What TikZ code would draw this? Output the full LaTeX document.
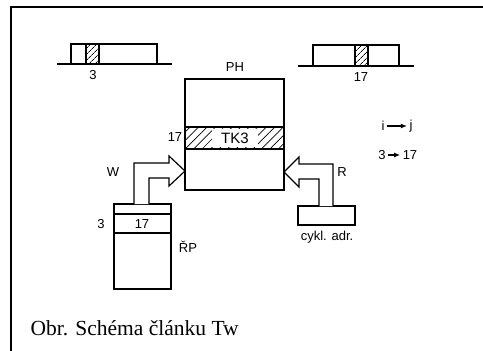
\documentclass[tikz,border=0pt]{standalone}
\usepackage{fontspec}
\setmainfont{Liberation Serif}
\setsansfont{Liberation Sans}
\usetikzlibrary{arrows.meta, positioning, patterns.meta}

\begin{document}
\begin{tikzpicture}[x=1pt, y=-1pt, line width=1.2pt,
    lab/.style={font=\sffamily\fontsize{13}{15}\selectfont, inner sep=1pt},
    hatch/.style={pattern={Lines[angle=45, distance=4pt, line width=0.7pt]}},
    wide hatch/.style={pattern={Lines[angle=45, distance=6pt, line width=0.7pt]}},
    blk/.style={draw, line join=miter, fill=white},
    arr/.style={-{Latex[length=6pt, width=5pt]}, line width=1.8pt, shorten <=1pt, shorten >=1pt}
  ]
  \useasboundingbox (0,0) rectangle (483,351);
  % frame
  \draw[line width=2pt] (11,351) -- (11,7) -- (483,7);

  % track strips
  \draw (57,64) -- (172,64);
  \draw (71,64) rectangle (157,44);
  \draw[hatch] (86,44) rectangle (99,64);
  \node[lab] (n3a) at (93,75) {3};

  \draw (298,66) -- (414,66);
  \draw (313,66) rectangle (399,45);
  \draw[hatch] (355,45) rectangle (368,66);
  \node[lab] (n17a) at (361,77) {17};

  % PH memory
  \draw (185,79) rectangle (284,190);
  \draw[wide hatch] (185,127) rectangle (284,149);
  \node[lab, fill=white, font=\sffamily\fontsize{15}{17}\selectfont, inner xsep=9pt, inner ysep=4pt] (tk) at (235,138) {TK3};
  \node[lab] (ph) at (235,67) {PH};
  \node[lab] (n17b) at (175,137) {17};

  % RP register
  \draw (114,204) rectangle (171,289);
  \draw (114,214) -- (171,214);
  \draw (114,233) -- (171,233);
  \node[lab] (n3b) at (101,224) {3};
  \node[lab] (n17c) at (142,224) {17};
  \node[lab] (rp) at (188,247) {ŘP};

  % cyclic address
  \draw (298,206) rectangle (355,225);
  \node[lab] (cyk) at (327,237) {cykl. adr.};

  % block arrows
  \draw[blk] (134,204) -- (134,163) -- (169,163) -- (169,156) -- (185,171)
    -- (169,186) -- (169,178) -- (149,178) -- (149,204);
  \node[lab] (w) at (113,172) {W};
  \draw[blk] (333,206) -- (333,164) -- (299,164) -- (299,157) -- (284,172)
    -- (299,187) -- (299,179) -- (319,179) -- (319,206);
  \node[lab] (r) at (342,172) {R};

  % mapping
  \node[lab] (i) at (383,126) {i};
  \node[lab] (j) at (411,126) {j};
  \draw[arr] (i) -- (j);
  \node[lab] (s3) at (382,155) {3};
  \node[lab] (s17) at (410,155) {17};
  \draw[arr] (s3) -- (s17);

  % caption
  \node[anchor=west, font=\fontsize{21.5}{25}\selectfont, inner sep=0pt] (cap) at (30,328) {Obr. Schéma článku Tw};
\end{tikzpicture}
\end{document}
